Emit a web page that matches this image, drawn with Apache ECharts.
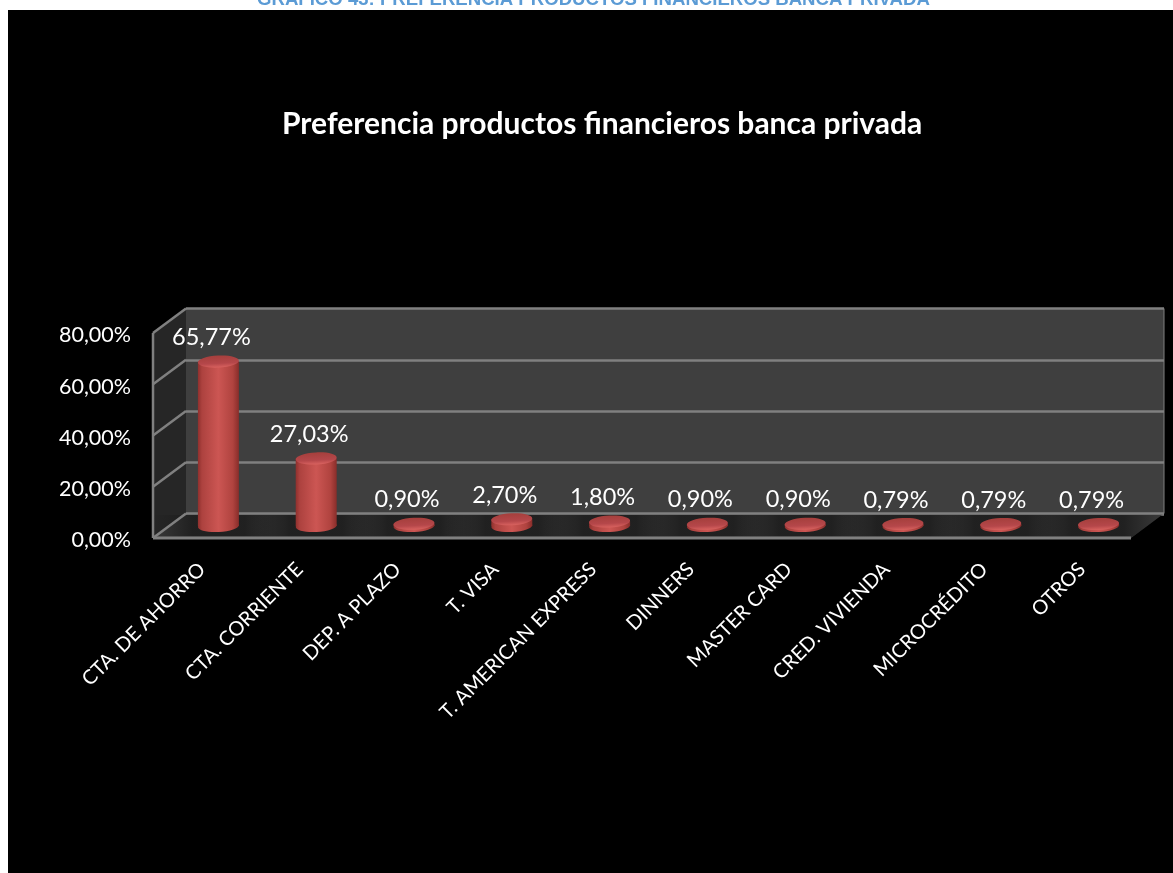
<!DOCTYPE html>
<html>
<head>
<meta charset="utf-8">
<style>html,body{margin:0;padding:0;background:#fff}#chart{width:1173px;height:873px}</style>
<script src="https://cdn.jsdelivr.net/npm/echarts@6/dist/echarts.min.js"></script>
</head>
<body>
<div id="chart"></div>
<script>
const categories = ['CTA. DE AHORRO','CTA. CORRIENTE','DEP. A PLAZO','T. VISA','T. AMERICAN EXPRESS','DINNERS','MASTER CARD','CRED. VIVIENDA','MICROCRÉDITO','OTROS'];
const shares = [65.77,27.03,0.90,2.70,1.80,0.90,0.90,0.79,0.79,0.79];
const yTicks = [0,20,40,60,80];
const pageHeading = 'GRAFICO 43: PREFERENCIA PRODUCTOS FINANCIEROS BANCA PRIVADA';
const chartTitle = 'Preferencia productos financieros banca privada';

const FONT = 'Lato';
const depthX = 33, depthY = -24.5;   // front plane to back wall
const lineGrey = '#808080';
const pct = v => v.toFixed(2).replace('.', ',') + '%';

// Frame of the 3D box: side wall, floor and slanted grid lines, placed from the front-plane axes.
function renderFrame(params, api) {
  const band = api.size([1, 0])[0];
  const x0 = api.coord([0, 0])[0] - band / 2;
  const x1 = api.coord([categories.length - 1, 0])[0] + band / 2;
  const yAt = v => api.coord([0, v])[1];
  const yb = yAt(0), yt = yAt(80);
  const line = (a, b, c, d, w) => ({type: 'line', shape: {x1: a, y1: b, x2: c, y2: d}, style: {stroke: lineGrey, lineWidth: w}});
  const kids = [
    {type: 'polygon', shape: {points: [[x0, yb], [x0, yt], [x0 + depthX, yt + depthY], [x0 + depthX, yb + depthY]]}, style: {fill: '#262626'}},
    {type: 'polygon', shape: {points: [[x0, yb], [x0 + depthX, yb + depthY], [x1 + depthX, yb + depthY], [x1, yb]]}, style: {fill: '#3a3a3a'}}
  ];
  // soft shadow pooled on the floor round each column, kept inside the slanted floor edge
  categories.forEach((c, i) => {
    const cx = api.coord([i, 0])[0] + depthX / 2;
    const yTop = yb + depthY + 1.5, yBot = yb - 1.5;
    const edgeAt = y => x1 + (yb - y) * depthX / -depthY;
    kids.push({type: 'polygon', shape: {points: [
        [cx - 66, yTop], [Math.min(cx + 66, edgeAt(yTop)), yTop],
        [Math.min(cx + 66, edgeAt(yBot)), yBot], [cx - 66, yBot]]},
      style: {fill: {type: 'linear', x: 0, y: 0, x2: 1, y2: 0, colorStops: [
        {offset: 0, color: 'rgba(28,28,28,0)'}, {offset: .3, color: 'rgba(28,28,28,.85)'},
        {offset: .7, color: 'rgba(28,28,28,.85)'}, {offset: 1, color: 'rgba(28,28,28,0)'}]}}});
  });
  yTicks.forEach(v => kids.push(line(x0, yAt(v), x0 + depthX, yAt(v) + depthY, 2.5)));
  kids.push(line(x0, yb, x0, yt, 2.5));
  kids.push(line(x0 + depthX, yb + depthY, x1 + depthX, yb + depthY, 2.5));
  kids.push(line(x0, yb, x1, yb, 3));
  kids.push(line(x1 + depthX, yb + depthY, x1 + depthX, yt + depthY, 1));
  return {type: 'group', children: kids};
}

// Red cylinder for one category, sized by the bar axes.
function renderColumn(params, api) {
  const base = api.coord([api.value(0), 0]);
  const top = api.coord([api.value(0), api.value(1)]);
  const rx = 20.5, ry = 6;
  const side = {type: 'linear', x: 0, y: 0, x2: 1, y2: 0, colorStops: [
    {offset: 0, color: '#8f302d'}, {offset: .1, color: '#ad423f'}, {offset: .5, color: '#cc5653'},
    {offset: .85, color: '#b0433f'}, {offset: 1, color: '#882d2a'}]};
  const cap = {type: 'linear', x: 0, y: 0, x2: 0, y2: 1, colorStops: [
    {offset: 0, color: '#a53f3c'}, {offset: .65, color: '#b5474a'}, {offset: 1, color: '#d9625f'}]};
  return {type: 'group', children: [
    {type: 'ellipse', shape: {cx: base[0], cy: base[1], rx: rx, ry: ry}, rotation: .05, originX: base[0], originY: base[1], style: {fill: side}},
    {type: 'rect', shape: {x: base[0] - rx, y: top[1], width: 2 * rx, height: base[1] - top[1]}, style: {fill: side}},
    {type: 'ellipse', shape: {cx: top[0], cy: top[1], rx: rx, ry: ry}, rotation: .05, originX: top[0], originY: top[1], style: {fill: cap}}
  ]};
}

const chart = echarts.init(document.getElementById('chart'), null, {renderer: 'canvas'});
chart.setOption({
  animation: false,
  backgroundColor: '#ffffff',
  graphic: [{type: 'rect', z: -100, silent: true, shape: {x: 8, y: 10, width: 1165, height: 863}, style: {fill: '#000'}}],
  title: [
    {text: pageHeading, left: 252, top: -15, textStyle: {fontFamily: 'Liberation Sans', fontWeight: 'bold', fontSize: 18.6, color: '#5b9bd5'}},
    {text: chartTitle, left: 277, top: 104, textStyle: {fontFamily: FONT, fontWeight: 'bold', fontSize: 30, color: '#fff'}}
  ],
  grid: [
    // back wall
    {left: 186, top: 308.5, width: 978, height: 205.5, show: true, backgroundColor: '#3f3f3f', borderWidth: 0},
    // front plane carrying the category labels
    {left: 153, top: 333, width: 978, height: 205},
    // mid-depth plane on which the columns stand
    {left: 169.5, top: 326, width: 978, height: 200},
    // front plane again, nudged down for the value labels
    {left: 153, top: 335.5, width: 978, height: 205}
  ],
  xAxis: [0, 1, 2, 3].map(i => ({
    type: 'category', gridIndex: i, data: categories,
    axisLine: {show: false}, axisTick: {show: false},
    axisLabel: i === 1
      ? {show: true, interval: 0, rotate: 45, margin: 28, color: '#fff', fontFamily: FONT, fontSize: 20}
      : {show: false}
  })),
  yAxis: [0, 1, 2, 3].map(i => ({
    type: 'value', gridIndex: i, min: 0, max: 80, interval: 20,
    axisLine: {show: false}, axisTick: {show: false},
    splitLine: i === 0 ? {show: true, lineStyle: {color: lineGrey, width: 2.5}} : {show: false},
    axisLabel: i === 3
      ? {show: true, margin: 22, color: '#fff', fontFamily: FONT, fontSize: 21.5, formatter: pct}
      : {show: false}
  })),
  series: [
    {type: 'custom', name: 'frame', xAxisIndex: 1, yAxisIndex: 1, z: 1, silent: true, clip: false,
     data: [[0, 0]], renderItem: renderFrame},
    {type: 'custom', name: 'columns', xAxisIndex: 2, yAxisIndex: 2, z: 3, silent: true, clip: false,
     encode: {x: 0, y: 1}, data: shares.map((v, i) => [i, v]), renderItem: renderColumn},
    {type: 'scatter', name: 'values', xAxisIndex: 2, yAxisIndex: 2, z: 4, silent: true, symbolSize: 0,
     itemStyle: {opacity: 1},
     data: shares.map((v, i) => [i, v]),
     label: {show: true, position: 'top', distance: 12, offset: [-7, 0], color: '#fff', fontFamily: FONT, fontSize: 23.5,
       formatter: p => pct(p.value[1])}}
  ]
});
</script>
</body>
</html>
